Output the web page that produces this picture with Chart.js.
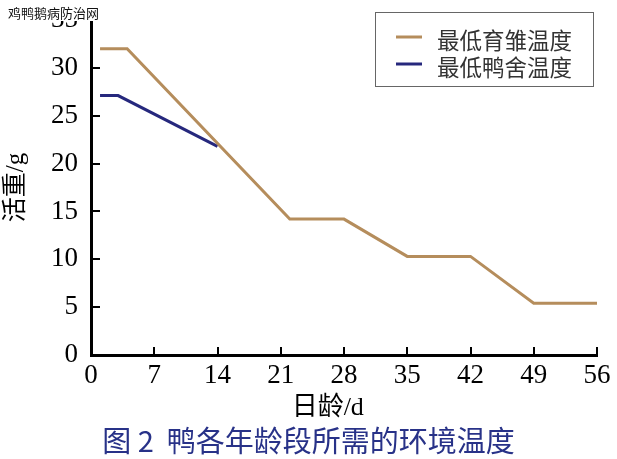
<!DOCTYPE html>
<html>
<head>
<meta charset="utf-8">
<script src="https://cdn.jsdelivr.net/npm/chart.js@4"></script>
<style>
  html, body { margin: 0; padding: 0; background: #fff; }
  #wrap { position: relative; width: 617px; height: 459px; }
  #watermark { position: absolute; left: 8px; top: 4px; font: 13px 'Noto Sans CJK SC'; color: #111; background: #fff; line-height: 17px; padding-right: 2px; }
  #caption { position: absolute; left: 0; width: 617px; top: 420px; text-align: center; font: 29px 'Noto Sans CJK SC'; color: #283288; line-height: 38px; }
</style>
</head>
<body>
<div id="wrap">
  <canvas id="c" width="617" height="459"></canvas>
  <div id="watermark">鸡鸭鹅病防治网</div>
  <div id="caption">图 2&nbsp; 鸭各年龄段所需的环境温度</div>
</div>
<script>
// series (x = day age, y = temperature)
var broodDays = [1, 4, 22, 28, 35, 42, 49, 56];
var broodTemp = [32, 32, 14.2, 14.2, 10.3, 10.3, 5.4, 5.4];
var houseDays = [1, 3, 14];
var houseTemp = [27.1, 27.1, 21.8];
var seriesNames = ['最低育雏温度', '最低鸭舍温度'];
var xTicks = [0, 7, 14, 21, 28, 35, 42, 49, 56];
var yTicks = [0, 5, 10, 15, 20, 25, 30, 35];

var brown = 'rgb(181,141,92)';
var navy = 'rgb(38,40,125)';

function toPoints(xs, ys) {
  return xs.map(function(x, i) { return {x: x, y: ys[i]}; });
}

// small inward tick marks like the original figure
var innerTicks = {
  id: 'innerTicks',
  afterDatasetsDraw: function(chart) {
    var ctx = chart.ctx, a = chart.chartArea;
    var xs = chart.scales.x, ys = chart.scales.y;
    ctx.save();
    ctx.strokeStyle = '#000';
    ctx.lineWidth = 2;
    xTicks.forEach(function(v) {
      var px = Math.round(xs.getPixelForValue(v));
      ctx.beginPath(); ctx.moveTo(px, a.bottom); ctx.lineTo(px, a.bottom - 8); ctx.stroke();
    });
    yTicks.forEach(function(v) {
      var py = Math.round(ys.getPixelForValue(v));
      ctx.beginPath(); ctx.moveTo(a.left, py); ctx.lineTo(a.left + 9, py); ctx.stroke();
    });
    ctx.restore();
  }
};

// boxed legend in the top right corner
var boxLegend = {
  id: 'boxLegend',
  afterDraw: function(chart) {
    var ctx = chart.ctx;
    ctx.save();
    ctx.fillStyle = '#fff';
    ctx.fillRect(375, 12, 219, 74);
    ctx.strokeStyle = '#666';
    ctx.lineWidth = 1;
    ctx.strokeRect(375.5, 12.5, 218, 74);
    ctx.font = '22.5px "Noto Sans CJK SC"';
    ctx.textBaseline = 'middle';
    chart.data.datasets.forEach(function(ds, i) {
      var y = 37 + i * 27;
      ctx.strokeStyle = ds.borderColor;
      ctx.lineWidth = 3;
      ctx.beginPath(); ctx.moveTo(396, y); ctx.lineTo(422, y); ctx.stroke();
      ctx.fillStyle = '#333';
      ctx.fillText(ds.label, 437, y + 3);
    });
    ctx.restore();
  }
};

new Chart(document.getElementById('c'), {
  type: 'line',
  data: {
    datasets: [{
      label: seriesNames[0],
      data: toPoints(broodDays, broodTemp),
      borderColor: brown,
      backgroundColor: brown,
      borderWidth: 3,
      pointRadius: 0,
      fill: false
    }, {
      label: seriesNames[1],
      data: toPoints(houseDays, houseTemp),
      borderColor: navy,
      backgroundColor: navy,
      borderWidth: 3,
      pointRadius: 0,
      fill: false
    }]
  },
  options: {
    responsive: false,
    animation: false,
    layout: { padding: { top: 20, right: 20, left: 0, bottom: 40 } },
    plugins: { legend: { display: false }, tooltip: { enabled: false } },
    scales: {
      x: {
        type: 'linear',
        min: 0, max: 56,
        afterBuildTicks: function(s) { s.ticks = xTicks.map(function(v) { return {value: v}; }); },
        afterFit: function(s) { s.height = 64; s.paddingLeft = 0; s.paddingRight = 0; },
        grid: { display: false, drawTicks: false },
        border: { display: true, color: '#000', width: 3 },
        ticks: { color: '#000', padding: 5, maxRotation: 0, font: { family: 'Liberation Serif', size: 27 } },
        // trailing spaces nudge the centred title left, as in the source figure
        title: { display: true, text: '日龄/d     ', color: '#000', padding: { top: 0, bottom: -5 }, font: { family: "'Liberation Serif', 'Noto Sans CJK SC'", size: 26 } }
      },
      y: {
        min: 0, max: 35,
        afterBuildTicks: function(s) { s.ticks = yTicks.map(function(v) { return {value: v}; }); },
        afterFit: function(s) { s.width = 91; s.paddingTop = 0; s.paddingBottom = 0; },
        grid: { display: false, drawTicks: false },
        border: { display: true, color: '#000', width: 3 },
        ticks: { color: '#000', padding: 13, font: { family: 'Liberation Serif', size: 27 } },
        title: { display: true, text: '活重/g', color: '#000', padding: { top: 1, bottom: 0 }, font: { family: "'Liberation Serif', 'Noto Sans CJK SC'", size: 25 } }
      }
    }
  },
  plugins: [innerTicks, boxLegend]
});
</script>
</body>
</html>
